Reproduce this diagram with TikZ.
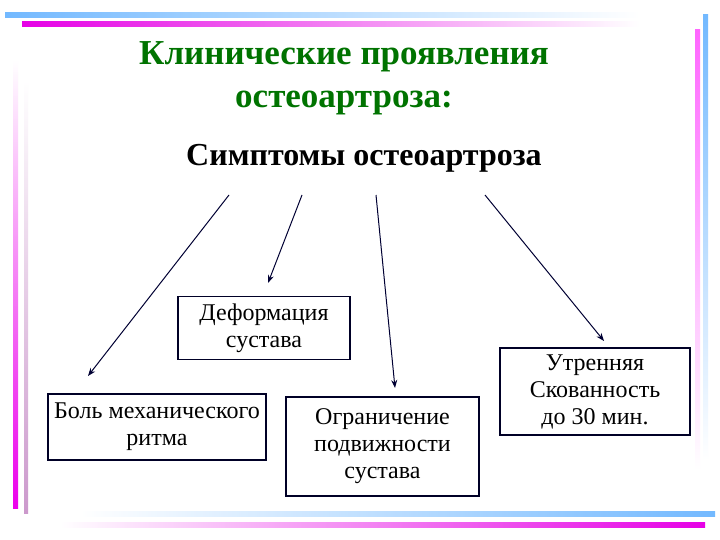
\documentclass[tikz,border=0pt]{standalone}
\usepackage{fontspec}
\setmainfont{Liberation Serif}
\usetikzlibrary{arrows.meta}
\begin{document}
\begin{tikzpicture}[x=1pt,y=-1pt,
  box/.style={draw=black!85!blue,line width=1.6pt,align=center,font=\fontsize{24}{27}\selectfont,inner sep=0pt},
  arr/.style={-{Stealth[length=8pt,width=6pt]},line width=1pt,draw=black!80!blue}]
\useasboundingbox (0,0) rectangle (720,540);
\fill[white] (0,0) rectangle (720,540);
% decorative bars
\shade[left color=cyan!50!blue!55,right color=white] (5,13) rectangle (640,18);
\shade[left color=magenta!80!violet,right color=white] (22,22) rectangle (640,27);
\shade[top color=white,bottom color=magenta!85!violet] (13,60) rectangle (18,508);
\shade[top color=white,bottom color=violet!40] (24,80) rectangle (28,513);
\shade[top color=magenta!60,bottom color=white] (695,30) rectangle (700,470);
\shade[top color=cyan!50!blue!55,bottom color=white] (703,15) rectangle (708,460);
\shade[right color=cyan!50!blue!55,left color=white] (80,511) rectangle (715,516);
\shade[right color=magenta!80!violet,left color=white] (60,522) rectangle (705,527);
% titles
\node[font=\bfseries\fontsize{35}{43}\selectfont,text=green!45!black,align=center] (t) at (344,78) {Клинические проявления\\остеоартроза:};
\node[font=\bfseries\fontsize{32}{36}\selectfont] (s) at (364,158) {Симптомы остеоартроза};
% boxes
\node[box,minimum width=172,minimum height=63] (d) at (264,328) {Деформация\\сустава};
\node[box,minimum width=218,minimum height=66] (b) at (157,427) {Боль механического\\ритма};
\node[box,minimum width=193,minimum height=99] (o) at (382.5,446.5) {Ограничение\\подвижности\\сустава};
\node[box,minimum width=190,minimum height=87] (u) at (595,391.5) {Утренняя\\Скованность\\до 30 мин.};
\coordinate (a1) at (229,195); \coordinate (e1) at (88,376);
\coordinate (a2) at (302,195); \coordinate (e2) at (268,283);
\coordinate (a3) at (376,195); \coordinate (e3) at (395,388);
\coordinate (a4) at (485,195); \coordinate (e4) at (604,341);
\draw[arr] (a1) -- (e1);
\draw[arr] (a2) -- (e2);
\draw[arr] (a3) -- (e3);
\draw[arr] (a4) -- (e4);
\end{tikzpicture}
\end{document}
